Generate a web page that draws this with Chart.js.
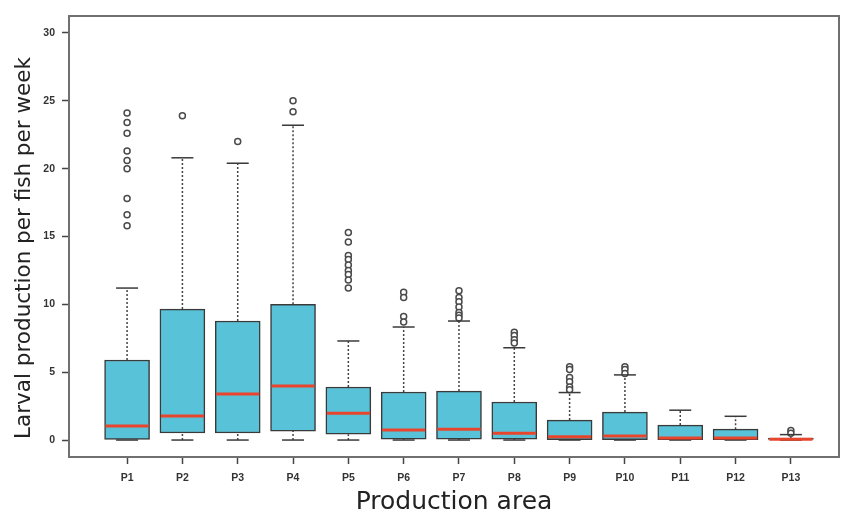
<!DOCTYPE html>
<html>
<head>
<meta charset="utf-8">
<script src="https://cdn.jsdelivr.net/npm/chart.js@4"></script>
<style>
  html, body { margin: 0; padding: 0; background: #fff; }
  #wrap { width: 841px; height: 517px; }
</style>
</head>
<body>
<div id="wrap"><canvas id="myChart" width="841" height="517"></canvas></div>
<script>
// production areas and box statistics
const categories = ['P1', 'P2', 'P3', 'P4', 'P5', 'P6', 'P7', 'P8', 'P9', 'P10', 'P11', 'P12', 'P13'];
const whiskerLow = [0, 0, 0, 0, 0, 0, 0, 0, 0, 0, 0, 0, 0];
const q1 = [0, 0.52, 0.52, 0.66, 0.43, 0.07, 0.07, 0.07, 0.02, 0.02, 0.02, 0.02, 0];
const median = [1.03, 1.77, 3.39, 3.98, 1.97, 0.74, 0.8, 0.5, 0.25, 0.3, 0.15, 0.15, 0.05];
const q3 = [5.9, 9.65, 8.77, 10.0, 3.91, 3.54, 3.61, 2.8, 1.47, 2.06, 1.1, 0.8, 0.15];
const whiskerHigh = [11.2, 20.8, 20.4, 23.2, 7.3, 8.33, 8.77, 6.8, 3.5, 4.8, 2.2, 1.75, 0.4];
const outliers = [
    [24.1, 23.4, 22.6, 21.3, 20.6, 20.0, 17.8, 16.6, 15.8],
    [23.9],
    [22.0],
    [25.0, 24.2],
    [15.3, 14.6, 13.6, 13.3, 12.9, 12.5, 12.2, 11.8, 11.2],
    [10.9, 10.5, 9.1, 8.7],
    [11.0, 10.5, 10.2, 9.8, 9.4, 9.2, 9.0],
    [7.95, 7.7, 7.4, 7.15],
    [5.4, 5.2, 4.6, 4.3, 3.9, 3.7],
    [5.4, 5.2, 4.9],
    [],
    [],
    [0.7, 0.5]
];
const yTicks = [0, 5, 10, 15, 20, 25, 30];
const yTitle = 'Larval production per fish per week';
const xTitle = 'Production area';

// build the datasets
const boxData = categories.map((c, i) => ({ x: i + 1, y: [q1[i], q3[i]] }));
const medianData = categories.map((c, i) => ({ x: i + 1, y: median[i] }));

const whiskerData = [];
const capData = [];
categories.forEach((c, i) => {
    whiskerData.push({ x: i + 1, y: q3[i] }, { x: i + 1, y: whiskerHigh[i] }, { x: i + 1, y: null });
    if (whiskerLow[i] < q1[i]) {
        whiskerData.push({ x: i + 1, y: whiskerLow[i] }, { x: i + 1, y: q1[i] }, { x: i + 1, y: null });
    }
    capData.push({ x: i + 1, y: whiskerHigh[i] }, { x: i + 1, y: whiskerLow[i] });
});

const outlierData = [];
outliers.forEach((list, i) => {
    list.forEach(v => outlierData.push({ x: i + 1, y: v }));
});

// frame round the plot area, like R's box(), and the y title
// (the y title sits a bit below the middle of the axis in the original)
const framePlugin = {
    id: 'frame',
    afterDatasetsDraw(chart) {
        const a = chart.chartArea;
        const ctx = chart.ctx;
        ctx.save();
        ctx.strokeStyle = '#707070';
        ctx.lineWidth = 2;
        ctx.strokeRect(a.left, a.top, a.right - a.left, a.bottom - a.top);
        ctx.restore();
    },
    afterDraw(chart) {
        const ctx = chart.ctx;
        ctx.save();
        ctx.translate(24, 248);
        ctx.rotate(-Math.PI / 2);
        ctx.font = '21.5px "DejaVu Sans"';
        ctx.fillStyle = '#222';
        ctx.textAlign = 'center';
        ctx.textBaseline = 'middle';
        ctx.fillText(yTitle, 0, 0);
        ctx.restore();
    }
};

const tickFont = { family: 'Liberation Sans', size: 10.5, weight: 'bold' };

const ctx = document.getElementById('myChart').getContext('2d');
const myChart = new Chart(ctx, {
    data: {
        datasets: [{
            type: 'scatter',
            label: 'Median',
            data: medianData,
            pointStyle: 'line',
            radius: 21.5,
            hoverRadius: 21.5,
            borderColor: '#e8452c',
            borderWidth: 3,
            order: 1
        }, {
            type: 'scatter',
            label: 'Caps',
            data: capData,
            pointStyle: 'line',
            radius: 11,
            hoverRadius: 11,
            borderColor: '#3a3a3a',
            borderWidth: 1.5,
            order: 2
        }, {
            type: 'scatter',
            label: 'Outliers',
            data: outlierData,
            pointStyle: 'circle',
            radius: 3,
            hoverRadius: 3,
            borderColor: '#4a4a4a',
            backgroundColor: '#ffffff',
            borderWidth: 1.5,
            order: 3
        }, {
            type: 'bar',
            label: 'Box',
            data: boxData,
            backgroundColor: '#58c2d9',
            borderColor: '#3a3a3a',
            borderWidth: 1.5,
            borderSkipped: false,
            barThickness: 45,
            order: 5
        }, {
            type: 'line',
            label: 'Whiskers',
            data: whiskerData,
            borderColor: '#444444',
            borderWidth: 1.5,
            borderDash: [2, 2],
            pointRadius: 0,
            spanGaps: false,
            fill: false,
            order: 6
        }]
    },
    options: {
        responsive: false,
        animation: false,
        layout: { autoPadding: false, padding: { top: 16, right: 2, left: 0, bottom: 0 } },
        plugins: {
            legend: { display: false },
            tooltip: { enabled: false }
        },
        scales: {
            x: {
                type: 'linear',
                offset: false,
                min: -0.05,
                max: 13.87,
                afterBuildTicks: s => { s.ticks = categories.map((c, i) => ({ value: i + 1 })); },
                afterFit: s => { s.height = 60; s.paddingLeft = 0; s.paddingRight = 0; },
                border: { display: false },
                grid: { offset: false, drawOnChartArea: false, tickLength: 7, tickColor: '#444', tickWidth: 1.5 },
                ticks: {
                    font: tickFont,
                    color: '#333',
                    padding: 8,
                    maxRotation: 0,
                    autoSkip: false,
                    callback: v => categories[v - 1]
                },
                title: {
                    display: true,
                    text: xTitle,
                    font: { family: 'DejaVu Sans', size: 25 },
                    color: '#222',
                    padding: { top: 0, bottom: 0 }
                }
            },
            y: {
                type: 'linear',
                min: -1.25,
                max: 31.25,
                afterBuildTicks: s => { s.ticks = yTicks.map(v => ({ value: v })); },
                afterFit: s => { s.width = 69; s.paddingTop = 0; s.paddingBottom = 0; },
                border: { display: false },
                grid: { drawOnChartArea: false, tickLength: 7, tickColor: '#444', tickWidth: 1.5 },
                ticks: {
                    font: tickFont,
                    color: '#333',
                    padding: 7
                },
                title: { display: false }
            }
        }
    },
    plugins: [framePlugin]
});
</script>
</body>
</html>
